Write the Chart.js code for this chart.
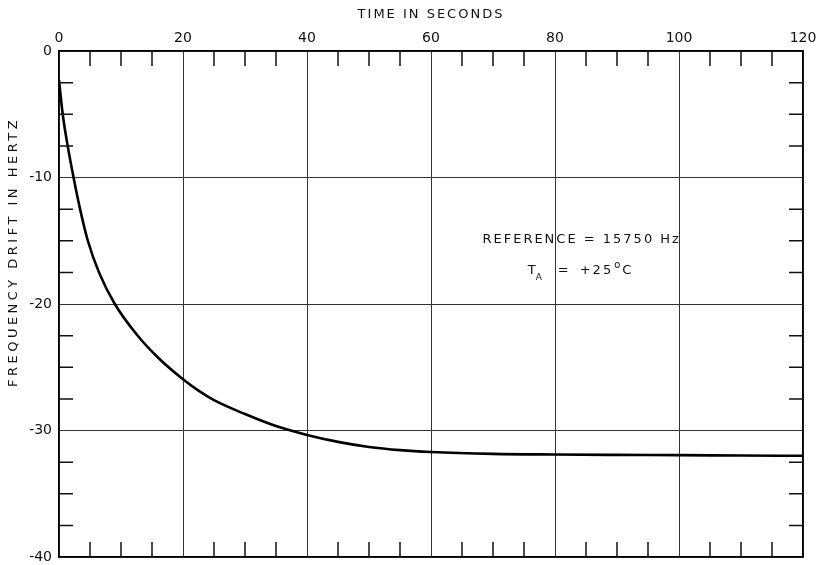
<!DOCTYPE html>
<html>
<head>
<meta charset="utf-8">
<script src="https://cdn.jsdelivr.net/npm/chart.js@4/dist/chart.umd.min.js"></script>
<style>
	body { margin: 0; background: #fff; }
	#wrap { width: 816px; height: 565px; }
</style>
</head>
<body>
<div id="wrap"><canvas id="drift" width="816" height="565"></canvas></div>
<script>
// time in seconds and frequency drift in hertz
var timeSec = [0, 0.6, 1.4, 2.35, 3.4, 4.65, 6.45, 9.0, 12.6, 16, 20, 22.5, 25, 30, 35, 40, 45, 50, 55, 60, 70, 80, 90, 100, 110, 120];
var driftHz = [-2.3, -5, -7.5, -10, -12.5, -15, -17.5, -20, -22.45, -24.25, -25.95, -26.85, -27.6, -28.7, -29.65, -30.35, -30.9, -31.3, -31.55, -31.7, -31.85, -31.9, -31.93, -31.95, -31.98, -32];

var xLabelStep = 20;
var yLabelStep = 10;
var LETTER = "'DejaVu Sans', sans-serif";

var points = timeSec.map(function (t, i) { return { x: t, y: driftHz[i] }; });

function gridColor(step) {
	return function (c) { return (c.tick && c.tick.value % step === 0) ? '#333' : 'rgba(0,0,0,0)'; };
}

// inward tick marks, titles and the note inside the plot
var plotDecor = {
	id: 'plotDecor',
	afterDraw: function (chart) {
		var ctx = chart.ctx;
		var a = chart.chartArea;
		var s = chart.scales;
		ctx.save();
		ctx.strokeStyle = '#111';
		ctx.lineWidth = 1.5;
		ctx.beginPath();
		s.x.ticks.forEach(function (t) {
			if (t.value % xLabelStep === 0) return;
			var px = s.x.getPixelForValue(t.value);
			ctx.moveTo(px, a.top); ctx.lineTo(px, a.top + 15);
			ctx.moveTo(px, a.bottom); ctx.lineTo(px, a.bottom - 15);
		});
		s.y.ticks.forEach(function (t) {
			if (t.value % yLabelStep === 0) return;
			var py = s.y.getPixelForValue(t.value);
			ctx.moveTo(a.left, py); ctx.lineTo(a.left + 14, py);
			ctx.moveTo(a.right, py); ctx.lineTo(a.right - 14, py);
		});
		ctx.stroke();

		ctx.fillStyle = '#111';
		ctx.letterSpacing = '2px';
		ctx.font = '13px ' + LETTER;
		ctx.textAlign = 'center';
		ctx.textBaseline = 'middle';
		ctx.fillText('TIME IN SECONDS', (a.left + a.right) / 2, 15);

		ctx.save();
		ctx.translate(14, 252);
		ctx.rotate(-Math.PI / 2);
		ctx.letterSpacing = '3.5px';
		ctx.fillText('FREQUENCY DRIFT IN HERTZ', 0, 0);
		ctx.restore();

		// note
		ctx.letterSpacing = '2px';
		ctx.font = '13px ' + LETTER;
		ctx.textAlign = 'center';
		ctx.textBaseline = 'alphabetic';
		ctx.fillText('REFERENCE = 15750 Hz', s.x.getPixelForValue(84.3), s.y.getPixelForValue(-15.2));

		ctx.textAlign = 'left';
		var bx = s.x.getPixelForValue(75.6);
		var by = s.y.getPixelForValue(-17.6);
		ctx.fillText('T', bx, by);
		var w = ctx.measureText('T').width;
		ctx.font = '9px ' + LETTER;
		ctx.letterSpacing = '0px';
		ctx.fillText('A', bx + w - 2, by + 6);
		ctx.font = '13px ' + LETTER;
		ctx.letterSpacing = '2px';
		ctx.fillText('=', bx + 30, by);
		ctx.fillText('+25', bx + 52, by);
		var w2 = ctx.measureText('+25').width;
		ctx.font = '10px ' + LETTER;
		ctx.fillText('o', bx + 52 + w2 + 1, by - 6);
		ctx.font = '13px ' + LETTER;
		ctx.fillText('C', bx + 52 + w2 + 9, by);
		ctx.restore();
	}
};

var chart = new Chart(document.getElementById('drift').getContext('2d'), {
	type: 'line',
	data: {
		datasets: [{
			data: points,
			borderColor: '#000',
			borderWidth: 2.6,
			pointRadius: 0,
			cubicInterpolationMode: 'monotone',
			fill: false
		}]
	},
	options: {
		responsive: false,
		animation: false,
		layout: { padding: 0 },
		plugins: { legend: { display: false }, tooltip: { enabled: false } },
		scales: {
			x: {
				type: 'linear', position: 'top', min: 0, max: 120,
				afterFit: function (sc) { sc.height = 51; sc.paddingLeft = 0; sc.paddingRight = 0; },
				border: { color: '#000', width: 1.5 },
				grid: { color: gridColor(xLabelStep), lineWidth: 1, drawTicks: false },
				ticks: {
					stepSize: 5, padding: 4, color: '#111', maxRotation: 0, autoSkip: false,
					font: { family: LETTER, size: 14 },
					callback: function (v) { return v % xLabelStep === 0 ? String(v) : ''; }
				}
			},
			x2: {
				type: 'linear', position: 'bottom', min: 0, max: 120,
				afterFit: function (sc) { sc.height = 8; sc.paddingLeft = 0; sc.paddingRight = 0; },
				border: { color: '#000', width: 1.5 },
				grid: { display: false },
				ticks: { display: false }
			},
			y: {
				type: 'linear', position: 'left', min: -40, max: 0,
				afterFit: function (sc) { sc.width = 59; sc.paddingTop = 0; sc.paddingBottom = 0; },
				border: { color: '#000', width: 1.5 },
				grid: { color: gridColor(yLabelStep), lineWidth: 1, drawTicks: false },
				ticks: {
					stepSize: 2.5, padding: 7, color: '#111', autoSkip: false,
					font: { family: LETTER, size: 14 },
					callback: function (v) { return v % yLabelStep === 0 ? String(v) : ''; }
				}
			},
			y2: {
				type: 'linear', position: 'right', min: -40, max: 0,
				afterFit: function (sc) { sc.width = 13; sc.paddingTop = 0; sc.paddingBottom = 0; },
				border: { color: '#000', width: 1.5 },
				grid: { display: false },
				ticks: { display: false }
			}
		}
	},
	plugins: [plotDecor]
});
</script>
</body>
</html>
